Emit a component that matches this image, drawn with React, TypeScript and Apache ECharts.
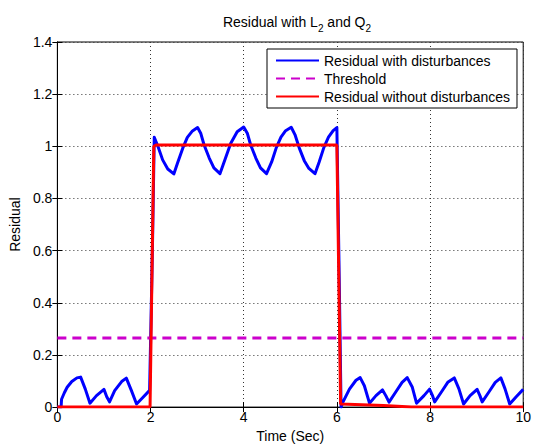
import React, { useEffect, useRef } from "react";
import * as echarts from "echarts";

const blueTime = [
  0.0, 0.08, 0.09, 0.15, 0.21, 0.31, 0.42, 0.5, 0.6, 0.7, 0.84, 1.0, 1.06, 1.12, 1.23, 1.38, 1.48, 1.59, 1.7, 1.84, 1.98,
  2.04, 2.08, 2.16, 2.26, 2.37, 2.5, 2.58, 2.69, 2.79, 2.9, 3.01, 3.08, 3.15, 3.26, 3.36, 3.49, 3.61, 3.72, 3.86, 4.0,
  4.08, 4.15, 4.26, 4.36, 4.49, 4.6, 4.7, 4.8, 4.9, 5.02, 5.1, 5.2, 5.3, 5.4, 5.53, 5.62, 5.72, 5.82, 5.92, 6.0,
  6.05, 6.09, 6.13, 6.27, 6.41, 6.5, 6.59, 6.7, 6.84, 6.98, 7.05, 7.12, 7.26, 7.4, 7.51, 7.62, 7.71, 7.87, 7.99,
  8.05, 8.1, 8.24, 8.38, 8.52, 8.62, 8.72, 8.86, 9.01, 9.07, 9.12, 9.26, 9.4, 9.52, 9.61, 9.71, 9.85, 10.0,
];
const blueValue = [
  0, 0, 0.03, 0.055, 0.076, 0.098, 0.112, 0.115, 0.069, 0.015, 0.044, 0.068, 0.04, 0.02, 0.063, 0.098, 0.111, 0.063, 0.012, 0.038, 0.064,
  0.6, 1.035, 0.999, 0.948, 0.913, 0.894, 0.936, 0.992, 1.034, 1.059, 1.072, 1.049, 1.005, 0.955, 0.917, 0.895, 0.955, 1.011, 1.056, 1.074,
  1.049, 1.005, 0.955, 0.917, 0.895, 0.94, 0.995, 1.035, 1.06, 1.073, 1.045, 0.99, 0.945, 0.915, 0.895, 0.94, 0.995, 1.035, 1.06, 1.072,
  0.5, 0.0, 0.019, 0.069, 0.103, 0.113, 0.082, 0.015, 0.044, 0.066, 0.044, 0.019, 0.057, 0.095, 0.113, 0.076, 0.015, 0.044, 0.069,
  0.045, 0.02, 0.057, 0.095, 0.112, 0.07, 0.012, 0.044, 0.068, 0.044, 0.02, 0.057, 0.095, 0.112, 0.07, 0.012, 0.04, 0.068,
];

const redTime = [0, 1.99, 2.07, 2.12, 6.0, 6.08, 7.0, 7.6, 10];
const redValue = [0, 0, 1.0, 1.005, 1.005, 0.012, 0.006, 0.0, 0];

const thresholdTime = [0, 10];
const thresholdValue = [0.265, 0.265];

const seriesNames = ["Residual with disturbances", "Threshold", "Residual without disturbances"];

const FONT = "'Liberation Sans', Arial, Helvetica, sans-serif";

export default function App() {
  const ref = useRef<HTMLDivElement>(null);
  useEffect(() => {
    if (!ref.current) return;
    const chart = echarts.init(ref.current, null, { renderer: "svg" });
    const pairs = (t: number[], v: number[]) => t.map((x, i) => [x, v[i]]);
    const fmtY = (v: number) => String(+v.toFixed(1));
    chart.setOption({
      animation: false,
      backgroundColor: "#fff",
      textStyle: { fontFamily: FONT },
      title: {
        text: "Residual with L{sub|2} and Q{sub|2}",
        left: 292,
        textAlign: "center",
        top: 6,
        textStyle: {
          fontFamily: FONT,
          fontSize: 14,
          fontWeight: "normal",
          color: "#000",
          lineHeight: 22,
          rich: {
            sub: { fontFamily: FONT, fontSize: 10, lineHeight: 22, verticalAlign: "bottom", color: "#000" },
          },
        },
      },
      grid: { left: 57, right: 7, top: 42, bottom: 36, show: true, borderColor: "#000", borderWidth: 1 },
      legend: {
        data: seriesNames,
        orient: "vertical",
        left: 267,
        top: 49,
        itemWidth: 43,
        itemHeight: 14,
        itemGap: 3,
        itemTextGap: 6,
        padding: [4, 7, 4, 8],
        backgroundColor: "#fff",
        borderColor: "#000",
        borderWidth: 1,
        itemStyle: { opacity: 0 },
        textStyle: { fontFamily: FONT, fontSize: 14, color: "#000", lineHeight: 15 },
      },
      xAxis: [
        {
          type: "value",
          min: 0,
          max: 10,
          interval: 2,
          name: "Time (Sec)",
          nameLocation: "middle",
          nameGap: 20,
          nameTextStyle: { fontFamily: FONT, fontSize: 14, color: "#000" },
          axisLine: { lineStyle: { color: "#000", width: 1 } },
          axisTick: { inside: true, length: 5, lineStyle: { color: "#000" } },
          axisLabel: { fontFamily: FONT, fontSize: 14, color: "#000", margin: 3 },
          splitLine: { show: true, lineStyle: { color: "#333", type: [1, 3], width: 1 } },
        },
        {
          type: "value",
          position: "top",
          min: 0,
          max: 10,
          interval: 2,
          axisLine: { lineStyle: { color: "#000", width: 1 } },
          axisTick: { inside: true, length: 5, lineStyle: { color: "#000" } },
          axisLabel: { show: false },
          splitLine: { show: false },
        },
      ],
      yAxis: [
        {
          type: "value",
          min: 0,
          max: 1.4,
          interval: 0.2,
          name: "Residual",
          nameLocation: "middle",
          nameGap: 27,
          nameTextStyle: { fontFamily: FONT, fontSize: 14, color: "#000" },
          axisLine: { show: true, lineStyle: { color: "#000", width: 1 } },
          axisTick: { show: true, inside: true, length: 5, lineStyle: { color: "#000" } },
          axisLabel: { fontFamily: FONT, fontSize: 14, color: "#000", margin: 5, formatter: fmtY },
          splitLine: { show: true, lineStyle: { color: "#333", type: [1, 3], width: 1 } },
        },
        {
          type: "value",
          position: "right",
          min: 0,
          max: 1.4,
          interval: 0.2,
          axisLine: { show: true, lineStyle: { color: "#000", width: 1 } },
          axisTick: { show: true, inside: true, length: 5, lineStyle: { color: "#000" } },
          axisLabel: { show: false },
          splitLine: { show: false },
        },
      ],
      series: [
        {
          name: seriesNames[0],
          type: "line",
          xAxisIndex: 0,
          yAxisIndex: 0,
          data: pairs(blueTime, blueValue),
          symbol: "none",
          smooth: false,
          color: "#0000ff",
          lineStyle: { color: "#0000ff", width: 3, join: "round" },
          z: 2,
        },
        {
          name: seriesNames[1],
          type: "line",
          xAxisIndex: 0,
          yAxisIndex: 0,
          data: pairs(thresholdTime, thresholdValue),
          symbol: "none",
          color: "#cc00cc",
          lineStyle: { color: "#cc00cc", width: 3, type: [9, 6] },
          z: 3,
        },
        {
          name: seriesNames[2],
          type: "line",
          xAxisIndex: 0,
          yAxisIndex: 0,
          data: pairs(redTime, redValue),
          symbol: "none",
          color: "#ff0000",
          lineStyle: { color: "#ff0000", width: 3 },
          z: 4,
        },
      ],
    });
    return () => chart.dispose();
  }, []);
  return <div ref={ref} style={{ width: 534, height: 448, position: "fixed", left: 0, top: 0 }} />;
}
